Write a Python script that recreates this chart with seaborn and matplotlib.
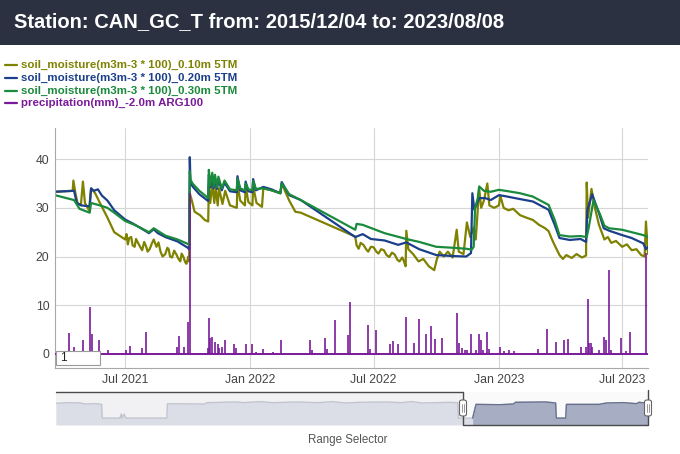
import pandas as pd
import matplotlib
matplotlib.use("Agg")
import matplotlib.pyplot as plt
import matplotlib.dates as mdates
from matplotlib.patches import Rectangle, FancyBboxPatch
from matplotlib.lines import Line2D
import seaborn as sns

# estilo limpo, fonte parecida com Arial
sns.set_theme(style="white")
plt.rcParams['font.family'] = ['Liberation Sans', 'DejaVu Sans']

# ---------------- dados ----------------
titulo = "Station: CAN_GC_T from: 2015/12/04 to: 2023/08/08"

nomes = ["soil_moisture(m3m-3 * 100)_0.10m 5TM",
         "soil_moisture(m3m-3 * 100)_0.20m 5TM",
         "soil_moisture(m3m-3 * 100)_0.30m 5TM",
         "precipitation(mm)_-2.0m ARG100"]
cores = ["#7f8200", "#1b3f8b", "#1a8a3c", "#7a1a9a"]

# 0.10m (oliva)
d010 = ["2021-03-20", "2021-04-15", "2021-04-16", "2021-04-19", "2021-04-22", "2021-04-27", "2021-04-30", "2021-05-03",
        "2021-05-09", "2021-05-12", "2021-05-18", "2021-05-25", "2021-06-05", "2021-06-15", "2021-07-01", "2021-07-03",
        "2021-07-05", "2021-07-07", "2021-07-10", "2021-07-12", "2021-07-15", "2021-07-17", "2021-07-20", "2021-07-23",
        "2021-07-26", "2021-07-29", "2021-08-01", "2021-08-03", "2021-08-06", "2021-08-09", "2021-08-12", "2021-08-16",
        "2021-08-19", "2021-08-22", "2021-08-25", "2021-08-29", "2021-09-01", "2021-09-03", "2021-09-05", "2021-09-08",
        "2021-09-11", "2021-09-14", "2021-09-17", "2021-09-20", "2021-09-22", "2021-09-25", "2021-09-27", "2021-09-29",
        "2021-10-02", "2021-10-03", "2021-10-04", "2021-10-07", "2021-10-11", "2021-10-19", "2021-10-26", "2021-10-31",
        "2021-11-01", "2021-11-03", "2021-11-06", "2021-11-09", "2021-11-11", "2021-11-14", "2021-11-16", "2021-11-21",
        "2021-11-25", "2021-12-02", "2021-12-12", "2021-12-13", "2021-12-17", "2021-12-24", "2021-12-25", "2021-12-29",
        "2022-01-04", "2022-01-05", "2022-01-10", "2022-01-18", "2022-01-20", "2022-02-01", "2022-02-14", "2022-02-16",
        "2022-02-27", "2022-03-08", "2022-03-16", "2022-06-04", "2022-06-06", "2022-06-09", "2022-06-12", "2022-06-16",
        "2022-06-20", "2022-06-23", "2022-06-27", "2022-07-01", "2022-07-05", "2022-07-08", "2022-07-12", "2022-07-16",
        "2022-07-20", "2022-07-24", "2022-07-28", "2022-08-01", "2022-08-05", "2022-08-08", "2022-08-12", "2022-08-14",
        "2022-08-17", "2022-08-18", "2022-08-21", "2022-08-28", "2022-09-05", "2022-09-12", "2022-09-20", "2022-09-28",
        "2022-10-02", "2022-10-06", "2022-10-12", "2022-10-18", "2022-10-25", "2022-10-31", "2022-11-03", "2022-11-10",
        "2022-11-15", "2022-11-20", "2022-11-25", "2022-11-28", "2022-12-03", "2022-12-06", "2022-12-10", "2022-12-15",
        "2022-12-18", "2022-12-25", "2023-01-01", "2023-01-03", "2023-01-08", "2023-01-15", "2023-01-22", "2023-02-01",
        "2023-02-10", "2023-02-20", "2023-03-01", "2023-03-10", "2023-03-15", "2023-03-20", "2023-03-25", "2023-03-31",
        "2023-04-05", "2023-04-10", "2023-04-18", "2023-04-25", "2023-05-03", "2023-05-09", "2023-05-10", "2023-05-12",
        "2023-05-17", "2023-05-22", "2023-05-28", "2023-06-05", "2023-06-10", "2023-06-15", "2023-06-22", "2023-07-01",
        "2023-07-08", "2023-07-15", "2023-07-22", "2023-07-29", "2023-08-03", "2023-08-05", "2023-08-08"]
v010 = [33.3, 33.5, 35.6, 33.0, 31.0, 30.5, 35.4, 31.0,
        29.5, 34.0, 33.0, 31.0, 28.0, 25.0, 23.5, 24.6,
        22.5, 23.8, 24.0, 22.3, 22.0, 23.6, 22.8, 22.0,
        21.3, 23.0, 22.0, 21.0, 21.5, 22.6, 23.5, 22.0,
        22.9, 21.0, 20.0, 20.5, 21.8, 21.5, 20.0, 19.8,
        21.2, 20.5, 19.6, 19.0, 20.6, 19.8, 18.9, 18.5,
        20.0, 19.0, 33.0, 31.5, 29.2, 28.5, 27.5, 27.2,
        34.5, 31.0, 34.8, 31.0, 34.3, 30.5, 34.0, 30.8,
        33.5, 30.5, 30.0, 35.0, 31.5, 30.5, 34.5, 31.2,
        30.5, 34.5, 31.0, 30.2, 34.0, 33.6, 33.0, 35.0,
        31.5, 29.2, 29.0, 24.1, 22.3, 21.6, 22.8, 22.4,
        21.5, 21.0, 22.0, 21.9, 21.0, 20.6, 21.5, 21.3,
        20.3, 19.9, 20.8, 20.4, 19.3, 19.0, 19.8, 19.2,
        18.0, 25.3, 21.5, 20.5, 19.0, 19.5, 18.0, 17.2,
        19.5, 21.0, 20.0, 21.0, 19.8, 25.5, 21.0, 20.5,
        27.0, 24.0, 26.0, 23.5, 34.0, 30.0, 31.5, 35.0,
        30.5, 30.0, 30.5, 32.5, 30.0, 29.5, 29.8, 28.5,
        28.0, 27.5, 26.5, 25.8, 25.2, 23.5, 22.0, 20.3,
        19.5, 20.3, 19.7, 20.5, 19.8, 20.2, 35.2, 28.0,
        33.9, 30.0, 26.5, 23.5, 24.0, 22.8, 23.2, 22.0,
        22.5, 21.3, 21.5, 20.3, 20.0, 27.2, 20.5]

# 0.20m (azul)
d020 = ["2021-03-20", "2021-04-17", "2021-04-21", "2021-04-28", "2021-05-10", "2021-05-12", "2021-05-16", "2021-05-22",
        "2021-05-28", "2021-06-05", "2021-06-15", "2021-07-01", "2021-07-12", "2021-07-22", "2021-08-05", "2021-08-12",
        "2021-08-18", "2021-08-29", "2021-09-16", "2021-10-01", "2021-10-03", "2021-10-04", "2021-10-05", "2021-10-08",
        "2021-10-18", "2021-10-31", "2021-11-01", "2021-11-03", "2021-11-06", "2021-11-08", "2021-11-10", "2021-11-13",
        "2021-11-15", "2021-11-20", "2021-11-24", "2021-12-02", "2021-12-12", "2021-12-13", "2021-12-17", "2021-12-24",
        "2021-12-25", "2021-12-29", "2022-01-04", "2022-01-05", "2022-01-09", "2022-01-20", "2022-02-01", "2022-02-14",
        "2022-02-16", "2022-02-27", "2022-03-16", "2022-06-04", "2022-06-15", "2022-06-27", "2022-07-17", "2022-08-06",
        "2022-08-18", "2022-09-06", "2022-10-01", "2022-10-25", "2022-11-14", "2022-11-21", "2022-11-23", "2022-11-26",
        "2022-12-03", "2022-12-12", "2022-12-20", "2023-01-01", "2023-01-10", "2023-02-01", "2023-02-20", "2023-03-15",
        "2023-03-24", "2023-03-31", "2023-04-15", "2023-05-01", "2023-05-09", "2023-05-11", "2023-05-18", "2023-05-28",
        "2023-06-04", "2023-06-12", "2023-07-01", "2023-07-15", "2023-08-01", "2023-08-05", "2023-08-08"]
v020 = [33.3, 33.5, 31.0, 30.5, 30.3, 34.0, 33.5, 33.8,
        32.5, 31.5, 29.5, 27.6, 26.8, 26.0, 24.8, 25.6,
        24.8, 24.0, 23.1, 21.8, 21.5, 40.4, 35.2, 34.4,
        32.8, 31.4, 36.8, 34.2, 36.2, 34.0, 36.0, 33.9,
        35.8, 33.6, 35.2, 33.4, 33.2, 36.5, 33.6, 33.2,
        35.4, 33.4, 33.2, 35.9, 33.6, 34.3, 33.8, 33.0,
        35.3, 32.6, 31.6, 24.0, 24.6, 23.6, 23.3, 22.4,
        22.9, 21.5, 20.3, 20.1, 20.0, 20.7, 33.0, 29.6,
        32.0, 32.0, 31.6, 32.6, 32.4, 31.8, 31.3, 29.6,
        26.5, 23.8, 23.4, 23.6, 23.0, 29.6, 32.8, 28.9,
        25.8, 25.3, 24.4, 23.8, 22.7, 21.5, 22.0]

# 0.30m (verde)
d030 = ["2021-03-20", "2021-04-17", "2021-04-25", "2021-05-10", "2021-05-12", "2021-05-25", "2021-06-05", "2021-06-15",
        "2021-07-01", "2021-07-15", "2021-08-05", "2021-08-12", "2021-08-29", "2021-09-16", "2021-10-01", "2021-10-03",
        "2021-10-04", "2021-10-05", "2021-10-08", "2021-10-18", "2021-10-31", "2021-11-01", "2021-11-03", "2021-11-06",
        "2021-11-08", "2021-11-10", "2021-11-13", "2021-11-15", "2021-11-20", "2021-11-24", "2021-12-02", "2021-12-12",
        "2021-12-13", "2021-12-17", "2021-12-24", "2021-12-25", "2021-12-29", "2022-01-04", "2022-01-05", "2022-01-09",
        "2022-01-20", "2022-02-01", "2022-02-14", "2022-02-16", "2022-02-27", "2022-03-16", "2022-06-04", "2022-06-06",
        "2022-06-15", "2022-07-17", "2022-08-18", "2022-09-06", "2022-10-01", "2022-10-25", "2022-11-14", "2022-11-22",
        "2022-11-25", "2022-11-27", "2022-12-01", "2022-12-03", "2022-12-10", "2022-12-20", "2023-01-01", "2023-01-15",
        "2023-02-01", "2023-02-20", "2023-03-15", "2023-03-24", "2023-03-31", "2023-04-15", "2023-05-01", "2023-05-10",
        "2023-05-13", "2023-05-20", "2023-05-30", "2023-06-05", "2023-06-12", "2023-07-01", "2023-07-15", "2023-08-01",
        "2023-08-08"]
v030 = [32.6, 31.6, 29.8, 29.0, 31.0, 30.5, 30.0, 29.0,
        27.3, 26.5, 25.0, 25.8, 24.3, 23.5, 22.6, 22.3,
        37.5, 35.8, 35.0, 33.5, 32.0, 37.8, 34.6, 37.2,
        34.4, 36.8, 34.2, 36.4, 34.0, 35.6, 33.8, 33.6,
        36.0, 34.0, 33.6, 35.0, 33.8, 33.6, 35.5, 33.9,
        34.0, 33.6, 33.0, 35.0, 32.8, 31.6, 25.5, 26.7,
        26.5, 24.8, 23.6, 23.0, 22.0, 21.8, 21.6, 21.4,
        22.0, 30.0, 32.0, 34.4, 33.5, 33.3, 33.7, 33.4,
        33.0, 32.3, 30.6, 27.5, 24.4, 24.1, 24.2, 24.0,
        26.0, 31.6, 28.5, 26.3, 25.8, 25.5, 25.0, 24.4,
        24.0]

# precipitacao (mm)
dprec = ["2021-04-10", "2021-04-17", "2021-04-30", "2021-05-11", "2021-05-13", "2021-05-23", "2021-06-06", "2021-07-03",
         "2021-07-08", "2021-07-26", "2021-07-31", "2021-09-15", "2021-09-18", "2021-09-25", "2021-10-02", "2021-10-04",
         "2021-10-30", "2021-11-01", "2021-11-03", "2021-11-06", "2021-11-10", "2021-11-14", "2021-11-16", "2021-11-21",
         "2021-11-25", "2021-12-08", "2021-12-11", "2021-12-25", "2022-01-04", "2022-01-09", "2022-01-19", "2022-02-03",
         "2022-02-15", "2022-03-29", "2022-04-01", "2022-04-20", "2022-04-23", "2022-05-05", "2022-05-25", "2022-05-28",
         "2022-06-23", "2022-06-26", "2022-07-04", "2022-07-25", "2022-07-29", "2022-08-06", "2022-08-18", "2022-08-30",
         "2022-09-06", "2022-09-16", "2022-09-24", "2022-09-29", "2022-10-09", "2022-10-31", "2022-11-03", "2022-11-08",
         "2022-11-12", "2022-11-15", "2022-11-21", "2022-11-28", "2022-12-03", "2022-12-06", "2022-12-09", "2022-12-15",
         "2022-12-18", "2023-01-03", "2023-01-09", "2023-01-16", "2023-01-23", "2023-02-27", "2023-03-13", "2023-03-26",
         "2023-04-06", "2023-04-13", "2023-05-01", "2023-05-09", "2023-05-12", "2023-05-14", "2023-05-16", "2023-05-18",
         "2023-05-28", "2023-06-04", "2023-06-07", "2023-06-12", "2023-06-14", "2023-06-30", "2023-07-06", "2023-07-13",
         "2023-08-05"]
vprec = [4.2, 1.4, 2.9, 9.7, 4.0, 2.9, 0.9, 0.9,
         1.6, 1.2, 4.4, 1.4, 3.7, 1.5, 6.5, 33.0,
         1.2, 7.3, 3.3, 3.5, 2.5, 2.0, 1.2, 1.4,
         2.9, 2.1, 1.2, 2.1, 2.1, 0.4, 1.1, 0.3,
         2.9, 2.9, 0.8, 3.2, 1.0, 7.0, 3.9, 10.6,
         6.0, 1.0, 4.9, 2.1, 2.7, 2.1, 7.5, 2.3,
         7.1, 4.1, 5.7, 3.1, 3.2, 8.5, 2.2, 1.3,
         0.9, 0.9, 4.1, 0.9, 4.1, 2.9, 0.9, 4.5,
         1.0, 1.5, 0.6, 0.8, 0.6, 1.0, 5.1, 2.5,
         2.9, 3.1, 1.5, 1.5, 11.2, 2.3, 2.2, 1.5,
         0.9, 3.4, 2.9, 17.2, 0.9, 3.2, 0.6, 4.4,
         20.7]

# mini grafico do range selector
drs = ["2021-03-20", "2021-04-07", "2021-04-25", "2021-05-02", "2021-05-17", "2021-05-26", "2021-05-27", "2021-06-22",
       "2021-06-24", "2021-06-25", "2021-06-28", "2021-07-01", "2021-08-30", "2021-08-31", "2021-10-25", "2021-10-28",
       "2021-12-10", "2021-12-20", "2022-01-15", "2022-02-01", "2022-03-10", "2022-04-10", "2022-05-01", "2022-05-20",
       "2022-06-10", "2022-07-20", "2022-08-10", "2022-08-25", "2022-09-10", "2022-10-01", "2022-10-20", "2022-11-01",
       "2022-11-02", "2022-11-23", "2022-11-28", "2023-01-02", "2023-01-22", "2023-01-25", "2023-03-10", "2023-03-25",
       "2023-03-26", "2023-04-09", "2023-04-10", "2023-05-28", "2023-06-08", "2023-07-03", "2023-07-22", "2023-07-26",
       "2023-08-08"]
vrs = [31.5, 32.5, 32.0, 30.5, 31.0, 30.0, 10.0, 10.0,
       16.0, 10.0, 16.0, 10.0, 10.0, 31.0, 30.5, 32.5,
       33.5, 32.5, 34.0, 32.5, 33.5, 32.5, 34.0, 32.0,
       33.0, 33.5, 32.5, 34.0, 32.0, 32.5, 33.0, 32.5,
       10.0, 10.0, 30.0, 29.5, 30.5, 33.0, 33.5, 32.0,
       10.0, 10.0, 30.0, 30.0, 32.0, 32.5, 31.0, 33.0,
       31.5]

inicio, fim = pd.Timestamp("2021-03-20"), pd.Timestamp("2023-08-08")
sel_inicio = pd.Timestamp("2022-11-08")

# ---------------- montagem ----------------
soil = pd.concat([
    pd.DataFrame({'data': pd.to_datetime(d), 'valor': v, 'serie': n})
    for n, d, v in [(nomes[0], d010, v010), (nomes[1], d020, v020), (nomes[2], d030, v030)]
])
prec = pd.DataFrame({'data': pd.to_datetime(dprec), 'valor': vprec})
rs = pd.DataFrame({'data': pd.to_datetime(drs), 'valor': vrs})

W, H = 680, 454
fig = plt.figure(figsize=(W / 100, H / 100), dpi=100)
fig.patch.set_facecolor('white')


def fx(px):
    return px / W


def fy(py):
    return 1 - py / H


# faixa do titulo
fig.patches.append(Rectangle((0, fy(45)), 1, 45 / H, transform=fig.transFigure,
                             facecolor='#2c3142', edgecolor='none', zorder=0))
fig.text(fx(14), fy(22), titulo, color='white', fontsize=14.5, fontweight='bold', va='center', ha='left')

# legenda manual
for i, (n, c) in enumerate(zip(nomes, cores)):
    yy = fy(65 + i * 12.8)
    fig.lines.append(Line2D([fx(5), fx(17)], [yy, yy], transform=fig.transFigure, color=c, lw=1.6))
    fig.text(fx(21), yy, n, color=c, fontsize=8.25, fontweight='bold', va='center', ha='left')

# grafico principal
ax = fig.add_axes([fx(55), fy(368), fx(648) - fx(55), fy(128) - fy(368)])
sns.lineplot(data=soil, x='data', y='valor', hue='serie', palette=dict(zip(nomes[:3], cores[:3])),
             estimator=None, linewidth=1.6, legend=False, ax=ax)
ax.plot([inicio, fim], [0, 0], color=cores[3], lw=1.4, zorder=3)
ax.vlines(prec['data'], 0, prec['valor'], color=cores[3], lw=1.2, zorder=3)

ax.set_xlim(inicio, fim)
ax.set_ylim(-2.9, 46.4)
ax.set_yticks([0, 10, 20, 30, 40])
ax.xaxis.set_major_locator(mdates.MonthLocator(bymonth=[1, 7]))
ax.xaxis.set_major_formatter(mdates.DateFormatter('%b %Y'))
ax.grid(True, color='#d6d6d6', lw=0.8)
ax.set_xlabel("")
ax.set_ylabel("")
ax.tick_params(length=0, labelsize=8.8, colors='#444444')
ax.tick_params(axis='x', pad=4)
ax.tick_params(axis='y', pad=4)
for s in ['top', 'right']:
    ax.spines[s].set_visible(False)
for s in ['left', 'bottom']:
    ax.spines[s].set_color('#a8a8a8')
    ax.spines[s].set_linewidth(0.8)

# caixinha do "roller"
fig.patches.append(Rectangle((fx(56), fy(365)), fx(100) - fx(56), fy(351) - fy(365), transform=fig.transFigure,
                             facecolor='white', edgecolor='#9a9a9a', lw=0.8, zorder=5))
fig.text(fx(60), fy(358), "1", fontsize=8.5, color='#222222', va='center', ha='left', zorder=6)

# range selector
ax2 = fig.add_axes([fx(56), fy(425), fx(648) - fx(56), fy(392) - fy(425)])
ax2.set_facecolor('#f1f1f3')
ax2.axvspan(sel_inicio, fim, color='#fafafb', lw=0)
ax2.fill_between(rs['data'], 0, rs['valor'], color='#dcdee7', lw=0)
ax2.plot(rs['data'], rs['valor'], color='#c2c4cf', lw=1)
sel = rs[rs['data'] >= sel_inicio]
ax2.fill_between(sel['data'], 0, sel['valor'], color='#a7aec4', lw=0)
ax2.plot(sel['data'], sel['valor'], color='#67718e', lw=1)
ax2.set_xlim(inicio, fim)
ax2.set_ylim(0, 48)
ax2.set_xticks([])
ax2.set_yticks([])
for s in ax2.spines.values():
    s.set_visible(False)

fig.lines.append(Line2D([fx(56), fx(463), fx(463), fx(648), fx(648)],
                        [fy(392), fy(392), fy(425), fy(425), fy(390)],
                        transform=fig.transFigure, color='#4a4a4a', lw=1, zorder=6))
for hx in [463, 648]:
    fig.patches.append(FancyBboxPatch((fx(hx - 3.5), fy(416)), 7 / W, 16 / H,
                                      boxstyle="round,pad=0,rounding_size=0.004", transform=fig.transFigure,
                                      facecolor='white', edgecolor='#666666', lw=0.8, zorder=7))
    for dx in [-1, 1]:
        fig.lines.append(Line2D([fx(hx + dx), fx(hx + dx)], [fy(412), fy(404)], transform=fig.transFigure,
                                color='#888888', lw=0.6, zorder=8))

fig.text(fx(348), fy(440), "Range Selector", fontsize=8.3, color='#555555', ha='center', va='center')

plt.savefig("out.png", dpi=100)
